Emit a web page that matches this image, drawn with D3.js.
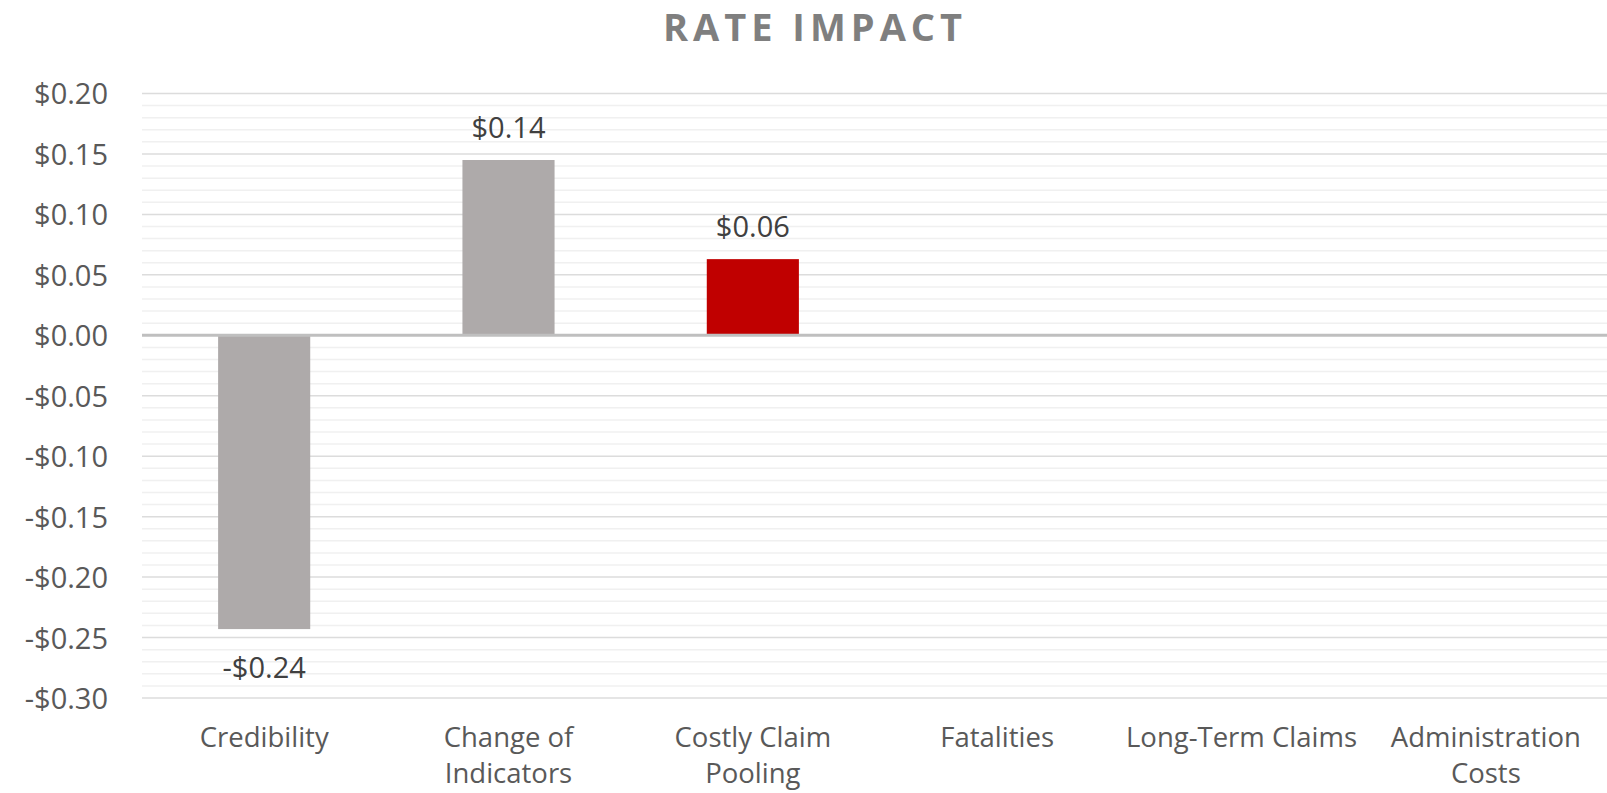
<!DOCTYPE html>
<html>
<head>
<meta charset="utf-8">
<script src="https://cdn.jsdelivr.net/npm/d3@7"></script>
<style>
  html, body { margin: 0; padding: 0; background: #fff; }
  svg { display: block; }
</style>
</head>
<body>
<svg id="chart" width="1607" height="793"></svg>
<script>
const title = "RATE IMPACT";
const categories = ["Credibility", "Change of\nIndicators", "Costly Claim\nPooling", "Fatalities", "Long-Term Claims", "Administration\nCosts"];
const values = [-0.243, 0.145, 0.063, 0, 0, 0];
const barColors = ["#aeaaaa", "#aeaaaa", "#c00000", "#aeaaaa", "#aeaaaa", "#aeaaaa"];
const yTicks = [0.20, 0.15, 0.10, 0.05, 0.00, -0.05, -0.10, -0.15, -0.20, -0.25, -0.30];
const yMinorTicks = d3.range(-30, 21, 1).map(d => d / 100);

const svg = d3.select("#chart");
const plotLeft = 142, plotRight = 1608, plotTop = 93.5, plotBottom = 698;

const x = d3.scaleBand().domain(categories).range([plotLeft, plotRight])
  .paddingInner(0.623).paddingOuter(0.3115);
const y = d3.scaleLinear().domain([-0.30, 0.20]).range([plotBottom, plotTop]);

const fmt = v => (v < 0 ? "-$" : "$") + Math.abs(v).toFixed(2);

// minor gridlines
svg.append("g").selectAll("line").data(yMinorTicks.filter(t => Math.round(t * 100) % 5 !== 0))
  .join("line")
  .attr("x1", plotLeft).attr("x2", plotRight)
  .attr("y1", d => y(d)).attr("y2", d => y(d))
  .attr("stroke", "#f0f0f0").attr("stroke-width", 1.5);

// major gridlines
svg.append("g").selectAll("line").data(yTicks.filter(t => t !== 0))
  .join("line")
  .attr("x1", plotLeft).attr("x2", plotRight)
  .attr("y1", d => y(d)).attr("y2", d => y(d))
  .attr("stroke", "#dcdcdc").attr("stroke-width", 1.5);

// y axis labels
const yAxis = d3.axisLeft(y).tickValues(yTicks).tickFormat(fmt).tickSize(0).tickPadding(0);
const ga = svg.append("g").attr("transform", `translate(108,0)`).call(yAxis);
ga.select(".domain").remove();
ga.selectAll("text")
  .attr("font-family", "'Open Sans', sans-serif")
  .attr("font-size", 29)
  .attr("fill", "#595959")
  .attr("dy", "0.36em");

// bars
svg.append("g").selectAll("rect").data(categories.map((c, i) => ({c, v: values[i], col: barColors[i]})))
  .join("rect")
  .attr("x", d => x(d.c))
  .attr("width", x.bandwidth())
  .attr("y", d => y(Math.max(0, d.v)))
  .attr("height", d => Math.abs(y(d.v) - y(0)))
  .attr("fill", d => d.col);

// zero line
svg.append("line")
  .attr("x1", plotLeft).attr("x2", plotRight)
  .attr("y1", y(0)).attr("y2", y(0))
  .attr("stroke", "#bfbfbf").attr("stroke-width", 3);

// data labels
svg.append("g").selectAll("text")
  .data(categories.map((c, i) => ({c, v: values[i]})).filter(d => d.v !== 0))
  .join("text")
  .attr("x", d => x(d.c) + x.bandwidth() / 2)
  .attr("y", d => d.v >= 0 ? y(d.v) - 22 : y(d.v) + 49)
  .attr("text-anchor", "middle")
  .attr("font-family", "'Open Sans', sans-serif")
  .attr("font-size", 29)
  .attr("fill", "#404040")
  .text(d => fmt(d.v));

// category labels
const gx = svg.append("g");
categories.forEach(c => {
  const lines = c.split("\n");
  const t = gx.append("text")
    .attr("x", x(c) + x.bandwidth() / 2)
    .attr("y", 747)
    .attr("text-anchor", "middle")
    .attr("font-family", "'Open Sans', sans-serif")
    .attr("font-size", 27.5)
    .attr("fill", "#595959");
  lines.forEach((l, i) => {
    t.append("tspan").attr("x", x(c) + x.bandwidth() / 2).attr("y", 747 + i * 36).text(l);
  });
});

// title
svg.append("text")
  .attr("x", 815).attr("y", 41)
  .attr("text-anchor", "middle")
  .attr("font-family", "'Open Sans', sans-serif")
  .attr("font-weight", "bold")
  .attr("font-size", 38)
  .attr("letter-spacing", 5)
  .attr("fill", "#7f7f7f")
  .text(title);
</script>
</body>
</html>
